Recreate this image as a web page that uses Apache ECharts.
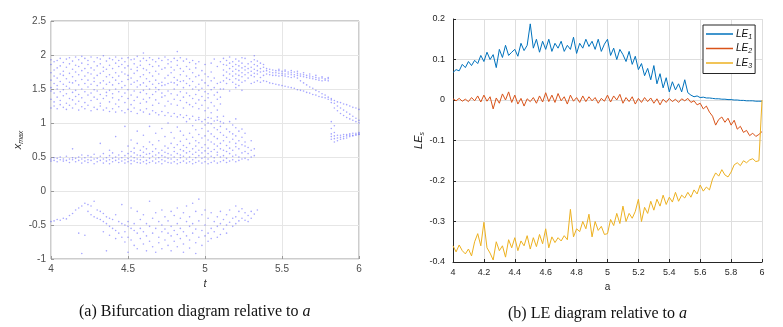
<!DOCTYPE html>
<html>
<head>
<meta charset="utf-8">
<script src="https://cdn.jsdelivr.net/npm/echarts@6/dist/echarts.min.js"></script>
<style>
  html, body { margin: 0; padding: 0; background: #fff; }
  #chart { width: 783px; height: 327px; }
</style>
</head>
<body>
<div id="chart"></div>
<script>
// bifurcation points, each row is [t, y1, y2, ...]
const upperBand = [
  [4.00, 1.22, 1.35, 1.47, 1.52, 1.63, 1.74, 1.86, 1.93],
  [4.02, 1.25, 1.31, 1.44, 1.58, 1.69, 1.78, 1.90],
  [4.04, 1.21, 1.38, 1.50, 1.55, 1.66, 1.81, 1.92],
  [4.06, 1.27, 1.33, 1.46, 1.61, 1.72, 1.84, 1.95],
  [4.08, 1.23, 1.40, 1.49, 1.57, 1.70, 1.76, 1.89],
  [4.10, 1.20, 1.29, 1.43, 1.54, 1.65, 1.82, 1.94],
  [4.12, 1.26, 1.36, 1.51, 1.60, 1.73, 1.87, 1.96],
  [4.14, 1.22, 1.34, 1.45, 1.59, 1.68, 1.79, 1.91],
  [4.16, 1.28, 1.39, 1.48, 1.62, 1.75, 1.85, 1.97],
  [4.18, 1.19, 1.32, 1.42, 1.56, 1.71, 1.83, 1.93],
  [4.20, 1.24, 1.37, 1.50, 1.64, 1.77, 1.88, 1.98],
  [4.22, 1.21, 1.30, 1.46, 1.58, 1.69, 1.80, 1.95],
  [4.24, 1.26, 1.41, 1.53, 1.63, 1.74, 1.86, 1.92],
  [4.26, 1.18, 1.33, 1.44, 1.57, 1.72, 1.81, 1.97],
  [4.28, 1.23, 1.38, 1.49, 1.61, 1.66, 1.78, 1.90],
  [4.30, 1.20, 1.35, 1.47, 1.55, 1.70, 1.84, 1.96],
  [4.32, 1.25, 1.29, 1.42, 1.59, 1.73, 1.87, 1.94],
  [4.34, 1.19, 1.36, 1.51, 1.62, 1.76, 1.82, 1.99],
  [4.36, 1.22, 1.40, 1.45, 1.57, 1.68, 1.79, 1.91],
  [4.38, 1.17, 1.31, 1.48, 1.60, 1.71, 1.85, 1.95],
  [4.40, 1.21, 1.37, 1.43, 1.56, 1.67, 1.80, 1.93],
  [4.42, 1.16, 1.28, 1.50, 1.63, 1.74, 1.88, 1.97],
  [4.44, 1.24, 1.34, 1.46, 1.58, 1.69, 1.83, 1.92],
  [4.46, 1.18, 1.39, 1.52, 1.61, 1.75, 1.86, 1.95],
  [4.48, 1.15, 1.30, 1.44, 1.55, 1.72, 1.81, 1.90],
  [4.50, 1.20, 1.36, 1.49, 1.64, 1.70, 1.84, 1.96],
  [4.52, 1.17, 1.27, 1.41, 1.57, 1.66, 1.79, 1.93],
  [4.54, 1.22, 1.33, 1.47, 1.60, 1.73, 1.87, 1.94],
  [4.56, 1.14, 1.38, 1.53, 1.62, 1.77, 1.82, 1.98],
  [4.58, 1.19, 1.29, 1.45, 1.56, 1.68, 1.85, 1.91],
  [4.60, 1.16, 1.35, 1.48, 1.59, 1.71, 1.80, 1.95, 2.03],
  [4.62, 1.21, 1.31, 1.43, 1.54, 1.65, 1.78, 1.92],
  [4.64, 1.13, 1.37, 1.50, 1.61, 1.74, 1.86, 1.96],
  [4.66, 1.18, 1.26, 1.42, 1.57, 1.69, 1.83, 1.93],
  [4.68, 1.15, 1.34, 1.46, 1.52, 1.63, 1.76, 1.90],
  [4.70, 1.12, 1.29, 1.49, 1.58, 1.72, 1.84, 1.95],
  [4.72, 1.17, 1.38, 1.44, 1.55, 1.60, 1.79, 1.92],
  [4.74, 1.11, 1.25, 1.40, 1.56, 1.66, 1.81, 1.97],
  [4.76, 1.15, 1.32, 1.47, 1.58, 1.70, 1.87, 1.93],
  [4.78, 1.10, 1.28, 1.43, 1.60, 1.74, 1.82, 1.90],
  [4.80, 1.14, 1.35, 1.50, 1.59, 1.67, 1.78, 1.95],
  [4.82, 1.09, 1.26, 1.41, 1.56, 1.63, 1.85, 1.92, 2.05],
  [4.84, 1.12, 1.33, 1.46, 1.61, 1.71, 1.80, 1.96],
  [4.86, 1.08, 1.22, 1.38, 1.52, 1.62, 1.76, 1.91],
  [4.88, 1.11, 1.30, 1.44, 1.58, 1.69, 1.83, 1.94],
  [4.90, 1.06, 1.27, 1.40, 1.55, 1.65, 1.79, 1.89],
  [4.92, 1.10, 1.24, 1.36, 1.50, 1.61, 1.74, 1.92],
  [4.94, 1.04, 1.29, 1.42, 1.53, 1.68, 1.81, 1.87],
  [4.96, 1.08, 1.21, 1.34, 1.48, 1.57, 1.70, 1.90],
  [4.98, 1.02, 1.26, 1.39, 1.51, 1.63, 1.77],
  [5.00, 1.05, 1.18, 1.33, 1.46, 1.59, 1.72, 1.86],
  [5.02, 1.00, 1.22, 1.37, 1.43, 1.55, 1.68],
  [5.04, 1.07, 1.15, 1.30, 1.49, 1.62, 1.75, 1.88],
  [5.06, 1.03, 1.25, 1.41, 1.52, 1.66, 1.94],
  [5.08, 1.09, 1.19, 1.35, 1.45, 1.58, 1.83],
  [5.10, 1.02, 1.28, 1.38, 1.50, 1.60, 1.90]
]

const middleBand = [
  [4.00, 0.44, 0.47], [4.02, 0.45, 0.49], [4.04, 0.43, 0.48], [4.06, 0.46, 0.50],
  [4.08, 0.44, 0.47], [4.10, 0.45, 0.51], [4.12, 0.42, 0.47], [4.14, 0.46, 0.49, 0.62],
  [4.16, 0.43, 0.48], [4.18, 0.45, 0.50], [4.20, 0.41, 0.47, 0.53], [4.22, 0.44, 0.49],
  [4.24, 0.42, 0.46, 0.52], [4.26, 0.45, 0.50], [4.28, 0.40, 0.47, 0.54], [4.30, 0.43, 0.48],
  [4.32, 0.45, 0.51, 0.70], [4.34, 0.41, 0.47, 0.55], [4.36, 0.44, 0.49], [4.38, 0.40, 0.46, 0.52, 0.60],
  [4.40, 0.43, 0.48, 0.56], [4.42, 0.45, 0.50, 0.80], [4.44, 0.42, 0.47, 0.53], [4.46, 0.44, 0.49, 0.58],
  [4.48, 0.41, 0.46, 0.52, 0.95], [4.50, 0.43, 0.48, 0.55, 0.66], [4.52, 0.40, 0.45, 0.51, 0.58, 0.75],
  [4.54, 0.44, 0.49, 0.56, 0.63], [4.56, 0.42, 0.47, 0.53, 0.70, 0.88], [4.58, 0.41, 0.46, 0.52, 0.60],
  [4.60, 0.43, 0.50, 0.57, 0.65, 0.82], [4.62, 0.40, 0.45, 0.54, 0.62], [4.64, 0.42, 0.48, 0.55, 0.72, 0.95],
  [4.66, 0.44, 0.51, 0.58, 0.68], [4.68, 0.41, 0.47, 0.53, 0.62, 0.85], [4.70, 0.43, 0.49, 0.56, 0.74],
  [4.72, 0.40, 0.46, 0.52, 0.60, 0.92], [4.74, 0.44, 0.50, 0.57, 0.66, 0.80], [4.76, 0.42, 0.48, 0.55, 0.63, 1.00],
  [4.78, 0.41, 0.47, 0.53, 0.70, 0.86], [4.80, 0.43, 0.50, 0.58, 0.64, 0.78], [4.82, 0.40, 0.46, 0.55, 0.68, 0.94],
  [4.84, 0.42, 0.49, 0.53, 0.61, 0.73, 0.88], [4.86, 0.44, 0.51, 0.59, 0.67, 0.82],
  [4.88, 0.41, 0.47, 0.56, 0.64, 0.76, 1.02], [4.90, 0.43, 0.50, 0.58, 0.70, 0.85],
  [4.92, 0.40, 0.46, 0.54, 0.62, 0.79, 0.96], [4.94, 0.42, 0.49, 0.57, 0.66, 0.74, 0.90],
  [4.96, 0.44, 0.52, 0.60, 0.71, 0.83, 1.05], [4.98, 0.41, 0.48, 0.56, 0.64, 0.78, 0.92],
  [5.00, 0.43, 0.50, 0.59, 0.68, 0.81, 0.97], [5.02, 0.40, 0.47, 0.55, 0.63, 0.75, 0.88, 1.08],
  [5.04, 0.42, 0.51, 0.58, 0.72, 0.84, 0.99], [5.06, 0.44, 0.49, 0.61, 0.69, 0.80, 0.93],
  [5.08, 0.41, 0.53, 0.57, 0.66, 0.77, 0.90, 1.04], [5.10, 0.43, 0.50, 0.62, 0.70, 0.86, 0.95],
  [5.12, 0.45, 0.52, 0.60, 0.74, 0.82, 1.00, 1.10], [5.14, 0.42, 0.48, 0.58, 0.67, 0.79, 0.91],
  [5.16, 0.44, 0.55, 0.63, 0.72, 0.87, 1.02], [5.18, 0.46, 0.51, 0.60, 0.76, 0.84, 0.97],
  [5.20, 0.43, 0.53, 0.65, 0.70, 0.81, 0.93, 1.06], [5.22, 0.45, 0.50, 0.62, 0.74, 0.88],
  [5.24, 0.47, 0.56, 0.68, 0.79, 0.91], [5.26, 0.48, 0.58, 0.66, 0.72, 0.85],
  [5.28, 0.46, 0.55, 0.64], [5.30, 0.50, 0.60, 0.74], [5.32, 0.52, 0.62]
]

const lowerBand = [
  [4.00, -0.45], [4.02, -0.44], [4.04, -0.42], [4.06, -0.43], [4.08, -0.40], [4.10, -0.41],
  [4.12, -0.36], [4.14, -0.33], [4.16, -0.28], [4.18, -0.25, -0.62], [4.20, -0.22, -0.92],
  [4.22, -0.18, -0.65], [4.24, -0.20, -0.30], [4.26, -0.22, -0.35], [4.28, -0.15, -0.38],
  [4.30, -0.28, -0.40], [4.32, -0.30, -0.42], [4.34, -0.33, -0.45, -0.60], [4.36, -0.38, -0.48, -0.88],
  [4.38, -0.40, -0.52, -0.65], [4.40, -0.42, -0.55], [4.42, -0.35, -0.58, -0.70], [4.44, -0.45, -0.62],
  [4.46, -0.48, -0.68, -0.20], [4.48, -0.50, -0.60, -0.75], [4.50, -0.52, -0.45, -0.68, -0.90],
  [4.52, -0.25, -0.55, -0.72], [4.54, -0.58, -0.48, -0.80], [4.56, -0.30, -0.62, -0.85],
  [4.58, -0.55, -0.70, -0.42], [4.60, -0.35, -0.60, -0.78], [4.62, -0.48, -0.66, -0.88],
  [4.64, -0.15, -0.52, -0.74], [4.66, -0.40, -0.62, -0.82], [4.68, -0.32, -0.55, -0.90],
  [4.70, -0.45, -0.68, -0.76], [4.72, -0.28, -0.50, -0.60, -0.85], [4.74, -0.38, -0.56, -0.72],
  [4.76, -0.44, -0.62, -0.80], [4.78, -0.30, -0.52, -0.66, -0.88], [4.80, -0.36, -0.58, -0.74],
  [4.82, -0.25, -0.48, -0.64, -0.82], [4.84, -0.40, -0.55, -0.70], [4.86, -0.32, -0.60, -0.78, -0.90],
  [4.88, -0.22, -0.45, -0.66], [4.90, -0.38, -0.52, -0.72, -0.84], [4.92, -0.18, -0.48, -0.62],
  [4.94, -0.30, -0.56, -0.76, -0.92], [4.96, -0.12, -0.44, -0.68], [4.98, -0.35, -0.58, -0.80],
  [5.00, -0.28, -0.50, -0.66], [5.02, -0.40, -0.62, -0.74], [5.04, -0.32, -0.55, -0.70],
  [5.06, -0.45, -0.60], [5.08, -0.38, -0.52, -0.68], [5.10, -0.30, -0.48, -0.64],
  [5.12, -0.42, -0.56], [5.14, -0.35, -0.50, -0.62], [5.16, -0.28, -0.46], [5.18, -0.40, -0.52],
  [5.20, -0.22, -0.38, -0.48], [5.22, -0.30, -0.44], [5.24, -0.26, -0.40], [5.26, -0.32, -0.43],
  [5.28, -0.36, -0.45], [5.30, -0.40, -0.30], [5.32, -0.34], [5.34, -0.28]
]

const rightBranches = [
  [5.12, 1.50, 1.62, 1.70, 1.78, 1.86, 1.95], [5.14, 1.58, 1.66, 1.75, 1.85, 1.92],
  [5.16, 1.47, 1.64, 1.72, 1.80, 1.88, 1.97], [5.18, 1.60, 1.69, 1.76, 1.83, 1.90],
  [5.20, 1.52, 1.57, 1.65, 1.72, 1.79, 1.86, 1.94], [5.22, 1.55, 1.63, 1.70, 1.77, 1.84, 1.91],
  [5.24, 1.48, 1.60, 1.68, 1.74, 1.81, 1.88, 1.96], [5.26, 1.62, 1.71, 1.78, 1.83, 1.95],
  [5.28, 1.66, 1.74, 1.80, 1.87], [5.30, 1.58, 1.70, 1.76, 1.82, 1.90],
  [5.32, 1.60, 1.68, 1.73, 1.79, 1.86, 1.93, 1.99], [5.34, 1.62, 1.72, 1.77, 1.84, 1.91],
  [5.36, 1.60, 1.67, 1.75, 1.80, 1.88], [5.38, 1.62, 1.70, 1.76, 1.82, 1.86],
  [5.40, 1.61, 1.72, 1.77, 1.80], [5.42, 1.59, 1.71, 1.75, 1.79], [5.44, 1.58, 1.70, 1.74, 1.78],
  [5.46, 1.57, 1.70, 1.74, 1.77], [5.48, 1.56, 1.69, 1.73, 1.77, 1.79], [5.50, 1.55, 1.70, 1.73, 1.76],
  [5.52, 1.54, 1.69, 1.72, 1.76, 1.78], [5.54, 1.53, 1.68, 1.72, 1.75], [5.56, 1.52, 1.67, 1.71, 1.74, 1.77],
  [5.58, 1.51, 1.68, 1.71, 1.75], [5.60, 1.49, 1.66, 1.70, 1.73, 1.76], [5.62, 1.48, 1.62, 1.69, 1.72],
  [5.64, 1.47, 1.59, 1.68, 1.71, 1.74], [5.66, 1.45, 1.56, 1.67, 1.70], [5.68, 1.44, 1.53, 1.66, 1.69, 1.72],
  [5.70, 1.42, 1.51, 1.65, 1.68], [5.72, 1.41, 1.48, 1.64, 1.67, 1.70], [5.74, 1.39, 1.46, 1.63, 1.66],
  [5.76, 1.38, 1.43, 1.62, 1.66, 1.68], [5.78, 1.37, 1.41, 1.63, 1.65], [5.80, 1.35, 1.38, 1.62, 1.65, 1.67],
  [5.82, 1.34, 1.36, 1.30, 1.02, 0.92, 0.80, 0.76, 0.84], [5.84, 1.33, 1.29, 1.22, 0.96, 0.81, 0.77, 0.86, 0.72],
  [5.86, 1.31, 1.25, 1.18, 0.82, 0.78, 0.74], [5.88, 1.30, 1.22, 1.14, 0.82, 0.79, 0.76],
  [5.90, 1.28, 1.19, 1.11, 0.83, 0.80, 0.77], [5.92, 1.27, 1.16, 1.08, 0.83, 0.81, 0.78],
  [5.94, 1.25, 1.13, 1.06, 0.84, 0.82, 0.80], [5.96, 1.23, 1.10, 1.04, 0.85, 0.82, 0.81],
  [5.98, 1.22, 1.07, 1.02, 0.85, 0.83, 0.82], [6.00, 1.20, 1.04, 1.00, 0.86, 0.84, 0.83]
]

// Lyapunov exponents, a = 4.00 ... 6.00 in steps of 0.02
const le1 = [
  0.068, 0.075, 0.072, 0.088, 0.080, 0.095, 0.085, 0.098, 0.090, 0.110,
  0.095, 0.118, 0.100, 0.112, 0.080, 0.125, 0.105, 0.135, 0.110, 0.118,
  0.125, 0.108, 0.140, 0.122, 0.135, 0.188, 0.128, 0.150, 0.118, 0.145,
  0.125, 0.150, 0.120, 0.140, 0.128, 0.145, 0.120, 0.135, 0.125, 0.155,
  0.115, 0.140, 0.128, 0.150, 0.132, 0.145, 0.125, 0.150, 0.120, 0.138,
  0.150, 0.110, 0.128, 0.100, 0.125, 0.112, 0.095, 0.120, 0.088, 0.108,
  0.075, 0.090, 0.060, 0.078, 0.050, 0.085, 0.040, 0.065, 0.030, 0.055,
  0.020, 0.045, 0.025, 0.040, 0.020, 0.050, 0.018, 0.012, 0.008, 0.010,
  0.006, 0.007, 0.005, 0.005, 0.004, 0.003, 0.003, 0.002, 0.002, 0.001,
  0.001, 0.000, 0.000, -0.001, -0.001, -0.002, -0.002, -0.002, -0.003, -0.003,
  -0.003
]
const le2 = [
  0.003, -0.002, 0.004, -0.003, 0.002, -0.004, 0.006, -0.002, 0.010, -0.005,
  0.012, -0.003, 0.008, -0.022, 0.005, -0.008, 0.015, 0.000, 0.020, -0.006,
  0.012, -0.010, 0.004, -0.015, 0.003, -0.004, 0.006, -0.008, 0.010, -0.005,
  0.018, -0.004, 0.012, -0.006, 0.016, -0.002, 0.008, -0.010, 0.012, -0.003,
  0.006, -0.006, 0.010, -0.004, 0.008, -0.002, 0.006, -0.008, 0.004, -0.003,
  0.012, -0.005, 0.010, 0.000, 0.014, -0.008, 0.006, -0.004, 0.008, -0.010,
  0.004, -0.006, 0.006, -0.004, 0.005, -0.008, 0.003, -0.012, 0.002, -0.006,
  0.004, -0.004, 0.002, -0.006, 0.003, -0.002, 0.004, -0.006, -0.002, -0.012,
  -0.008, -0.022, -0.015, -0.030, -0.040, -0.062, -0.048, -0.042, -0.055, -0.045,
  -0.062, -0.050, -0.072, -0.065, -0.080, -0.075, -0.088, -0.082, -0.090, -0.085,
  -0.078
]
const le3 = [
  -0.360, -0.375, -0.358, -0.372, -0.380, -0.368, -0.385, -0.350, -0.330, -0.360,
  -0.302, -0.365, -0.378, -0.395, -0.350, -0.372, -0.360, -0.388, -0.345, -0.365,
  -0.340, -0.372, -0.348, -0.360, -0.335, -0.368, -0.340, -0.362, -0.332, -0.355,
  -0.318, -0.365, -0.338, -0.352, -0.340, -0.348, -0.335, -0.345, -0.270, -0.338,
  -0.318, -0.325, -0.300, -0.318, -0.282, -0.338, -0.300, -0.322, -0.312, -0.332,
  -0.330, -0.295, -0.310, -0.280, -0.305, -0.262, -0.300, -0.280, -0.292, -0.275,
  -0.245, -0.300, -0.265, -0.280, -0.250, -0.272, -0.245, -0.262, -0.235, -0.258,
  -0.240, -0.252, -0.228, -0.250, -0.235, -0.242, -0.228, -0.240, -0.222, -0.232,
  -0.210, -0.225, -0.215, -0.222, -0.195, -0.180, -0.188, -0.172, -0.185, -0.190,
  -0.178, -0.160, -0.155, -0.162, -0.150, -0.155, -0.148, -0.145, -0.152, -0.150,
  0.000
]

const toPoints = rows => rows.flatMap(r => r.slice(1).map(y => [r[0], y]))
const aGrid = le1.map((_, i) => +(4 + i * 0.02).toFixed(2))
const pair = arr => arr.map((v, i) => [aGrid[i], v])

const chart = echarts.init(document.getElementById('chart'))

const subRich = {
  n: { fontSize: 11, fontStyle: 'italic', color: '#262626', lineHeight: 14, verticalAlign: 'middle' },
  s: { fontSize: 7, fontStyle: 'italic', color: '#262626', lineHeight: 14, verticalAlign: 'bottom' }
}
const serif = '"Liberation Serif", "DejaVu Serif", serif'

const option = {
  animation: false,
  backgroundColor: '#fff',
  grid: [
    { left: 51, top: 21, width: 308, height: 238, show: true, borderColor: '#9a9a9a', borderWidth: 1, backgroundColor: 'transparent' },
    { left: 453, top: 19, width: 309, height: 243 }
  ],
  xAxis: [
    {
      gridIndex: 0, type: 'value', min: 4, max: 6, interval: 0.5,
      name: 't', nameLocation: 'middle', nameGap: 17,
      nameTextStyle: { fontStyle: 'italic', fontSize: 11, color: '#333', fontFamily: 'Liberation Sans' },
      axisLine: { show: false, onZero: false },
      axisTick: { inside: true, length: 3, lineStyle: { color: '#9a9a9a' } },
      axisLabel: { fontSize: 10, color: '#4d4d4d', margin: 5, fontFamily: 'Liberation Sans' },
      splitLine: { lineStyle: { color: '#e6e6e6' } }
    },
    {
      gridIndex: 1, type: 'value', min: 4, max: 6, interval: 0.2,
      name: 'a', nameLocation: 'middle', nameGap: 18,
      nameTextStyle: { fontSize: 10, color: '#262626', fontFamily: 'Liberation Sans' },
      axisLine: { onZero: false, lineStyle: { color: '#262626', width: 1 } },
      axisTick: { inside: true, length: 3, lineStyle: { color: '#262626' } },
      axisLabel: { fontSize: 9, color: '#262626', margin: 6, fontFamily: 'Liberation Sans' },
      splitLine: { lineStyle: { color: '#dedede' } }
    }
  ],
  yAxis: [
    {
      gridIndex: 0, type: 'value', min: -1, max: 2.5, interval: 0.5,
      name: '{n|x}{s|max}', nameLocation: 'middle', nameGap: 25, nameRotate: 90,
      nameTextStyle: { rich: subRich, fontFamily: 'Liberation Sans' },
      axisLine: { show: false, onZero: false },
      axisTick: { inside: true, length: 3, lineStyle: { color: '#9a9a9a' } },
      axisLabel: { fontSize: 10, color: '#4d4d4d', margin: 5, fontFamily: 'Liberation Sans' },
      splitLine: { lineStyle: { color: '#e6e6e6' } }
    },
    {
      gridIndex: 1, type: 'value', min: -0.4, max: 0.2, interval: 0.1,
      name: '{n|LE}{s|s}', nameLocation: 'middle', nameGap: 27, nameRotate: 90,
      nameTextStyle: { rich: subRich, fontFamily: 'Liberation Sans' },
      axisLine: { onZero: false, lineStyle: { color: '#262626', width: 1 } },
      axisTick: { inside: true, length: 3, lineStyle: { color: '#262626' } },
      axisLabel: { fontSize: 9, color: '#262626', margin: 8, fontFamily: 'Liberation Sans',
        formatter: v => String(Math.round(v * 10) / 10) },
      splitLine: { lineStyle: { color: '#dedede' } }
    }
  ],
  legend: {
    left: 703, top: 25, orient: 'vertical',
    data: ['LE1', 'LE2', 'LE3'],
    icon: 'rect', itemWidth: 27, itemHeight: 1.5, itemGap: 3,
    padding: [4, 3, 4, 3],
    borderColor: '#262626', borderWidth: 1, backgroundColor: '#fff',
    formatter: name => '{n|LE}{s|' + name.slice(2) + '}',
    textStyle: {
      padding: [0, 0, 0, -2],
      rich: {
        n: { fontSize: 10, fontStyle: 'italic', color: '#111', lineHeight: 13, verticalAlign: 'middle', fontFamily: 'Liberation Sans' },
        s: { fontSize: 7, fontStyle: 'italic', color: '#111', lineHeight: 13, verticalAlign: 'bottom', fontFamily: 'Liberation Sans' }
      }
    }
  },
  series: [
    ...[upperBand, middleBand, lowerBand, rightBranches].map(rows => ({
      type: 'scatter', xAxisIndex: 0, yAxisIndex: 0,
      data: toPoints(rows),
      symbolSize: 1.6,
      silent: true,
      itemStyle: { color: 'rgba(70, 70, 255, 0.6)' }
    })),
    { name: 'LE1', type: 'line', xAxisIndex: 1, yAxisIndex: 1, data: pair(le1), showSymbol: false, lineStyle: { color: '#0072BD', width: 1 }, itemStyle: { color: '#0072BD' } },
    { name: 'LE2', type: 'line', xAxisIndex: 1, yAxisIndex: 1, data: pair(le2), showSymbol: false, lineStyle: { color: '#D95319', width: 1 }, itemStyle: { color: '#D95319' } },
    { name: 'LE3', type: 'line', xAxisIndex: 1, yAxisIndex: 1, data: pair(le3), showSymbol: false, lineStyle: { color: '#EDB120', width: 1 }, itemStyle: { color: '#EDB120' } }
  ],
  graphic: [
    {
      type: 'text', left: 79, top: 304,
      style: {
        text: '(a) Bifurcation diagram relative to {i|a}',
        font: '16px ' + serif, fill: '#111',
        rich: { i: { fontStyle: 'italic', fontSize: 16, fontFamily: serif } }
      }
    },
    {
      type: 'text', left: 508, top: 306,
      style: {
        text: '(b) LE diagram relative to {i|a}',
        font: '16px ' + serif, fill: '#111',
        rich: { i: { fontStyle: 'italic', fontSize: 16, fontFamily: serif } }
      }
    }
  ]
}

chart.setOption(option)
</script>
</body>
</html>
